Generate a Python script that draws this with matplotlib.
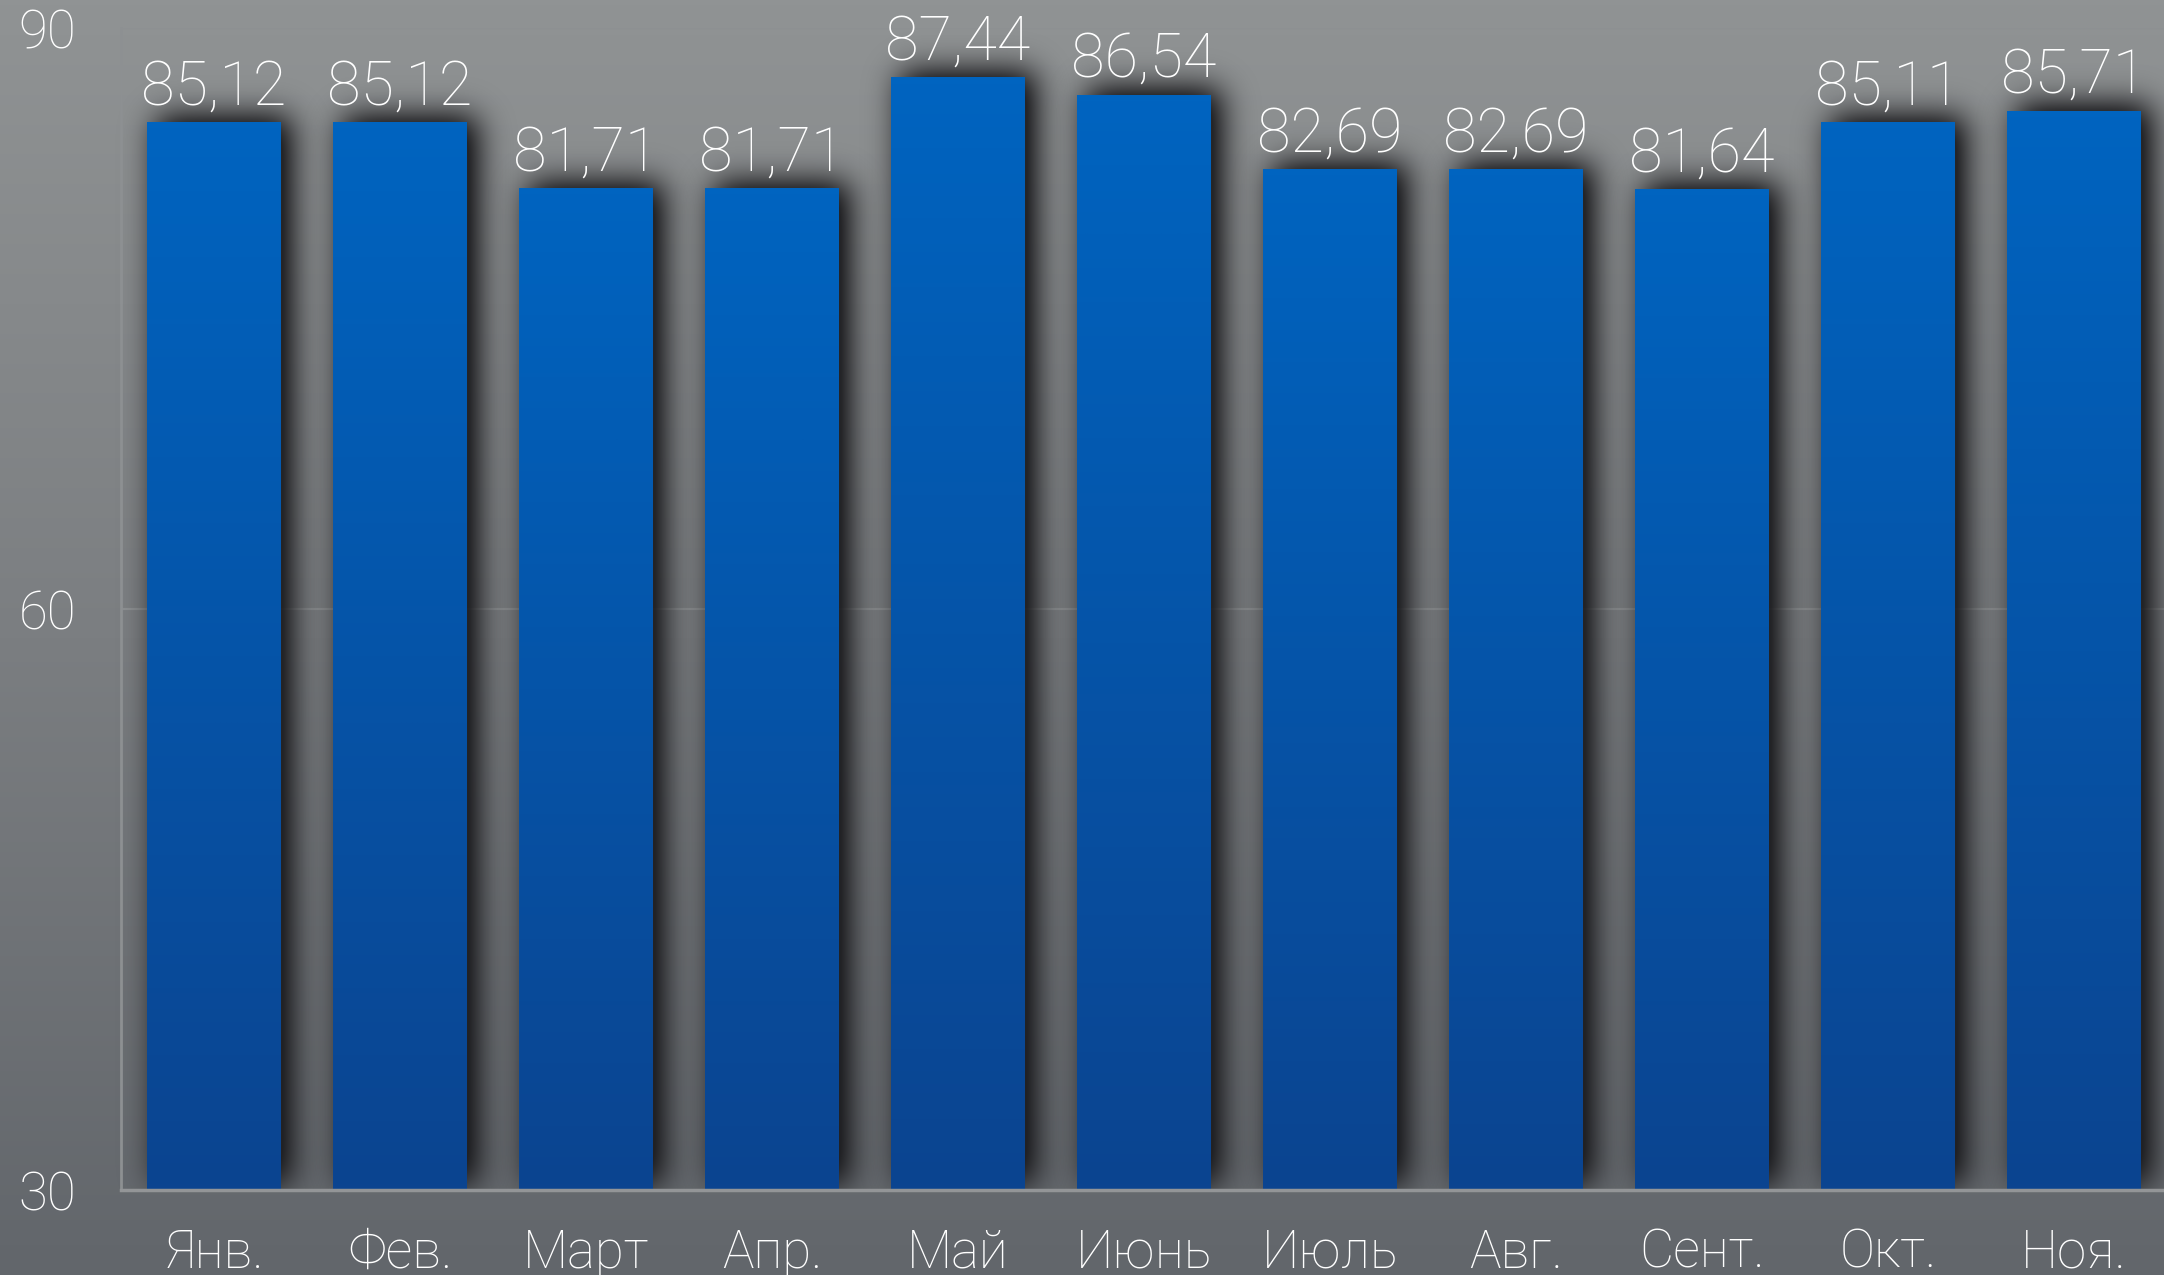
import numpy as np
import matplotlib
matplotlib.use("Agg")
import matplotlib.pyplot as plt
from matplotlib.colors import LinearSegmentedColormap

months = ["Янв.", "Фев.", "Март", "Апр.", "Май", "Июнь", "Июль", "Авг.", "Сент.", "Окт.", "Ноя."]
values = [85.12, 85.12, 81.71, 81.71, 87.44, 86.54, 82.69, 82.69, 81.64, 85.11, 85.71]
y_ticks = [30, 60, 90]

FONT = ["Roboto", "DejaVu Sans"]
plt.rcParams["font.family"] = FONT
plt.rcParams["font.weight"] = "light"

W, H = 2164, 1275
DPI = 100
fig = plt.figure(figsize=(W / DPI, H / DPI), dpi=DPI)

# background gradient
bg = fig.add_axes([0, 0, 1, 1], zorder=-10)
bg_cmap = LinearSegmentedColormap.from_list("bg", ["#62666b", "#7b7e81", "#909394"])
grad = np.linspace(0, 1, 256).reshape(-1, 1)
bg.imshow(grad, aspect="auto", cmap=bg_cmap, origin="lower", extent=[0, 1, 0, 1])
bg.set_axis_off()

ax = fig.add_axes([121 / W, 85 / H, 2046 / W, 1162 / H])
ax.set_facecolor("none")


def gauss_kernel(sigma):
    r = max(int(3 * sigma), 1)
    x = np.arange(-r, r + 1)
    k = np.exp(-x ** 2 / (2.0 * sigma ** 2))
    return k / k.sum()


class ShadowFilter:
    def __init__(self, sigma, dx, dy, alpha, color=(0.1, 0.1, 0.11)):
        self.sigma = sigma
        self.dx = dx
        self.dy = dy
        self.alpha = alpha
        self.color = color

    def __call__(self, im, dpi):
        a = im[:, :, 3]
        h, w = a.shape
        pad = int(3 * self.sigma + max(abs(self.dx), abs(self.dy))) + 2
        p = np.pad(a, pad)
        p = np.roll(p, self.dx, axis=1)
        p = np.roll(p, -self.dy, axis=0)
        k = gauss_kernel(self.sigma)
        p = np.apply_along_axis(lambda r: np.convolve(r, k, mode="same"), 1, p)
        p = np.apply_along_axis(lambda c: np.convolve(c, k, mode="same"), 0, p)
        p[pad + h:, :] = 0
        out = np.zeros(p.shape + (4,))
        out[:, :, :3] = self.color
        out[:, :, 3] = np.clip(p * self.alpha, 0, 0.9)
        return out, -pad, -pad


x = np.arange(len(months))
bw = 0.72
base = y_ticks[0]

# grid lines
for t in y_ticks[1:]:
    ax.axhline(t, color="#8d9092", lw=1.6, zorder=0.5)

# shadows
shadow_bars = ax.bar(x, np.array(values) - base, width=bw, bottom=base,
                     color="black", zorder=1)
for p in shadow_bars:
    p.set_agg_filter(ShadowFilter(sigma=16, dx=10, dy=6, alpha=1.3))

# gradient bars
bar_cmap = LinearSegmentedColormap.from_list("bar", ["#0b4490", "#0064c0"])
for xi, v in zip(x, values):
    ax.imshow(grad, aspect="auto", cmap=bar_cmap, origin="lower",
              extent=[xi - bw / 2, xi + bw / 2, base, v], zorder=2,
              interpolation="bilinear")

# value labels
for xi, v in zip(x, values):
    ax.annotate(f"{v:.2f}".replace(".", ","), (xi, v), xytext=(0, 13),
                textcoords="offset points", ha="center", va="baseline",
                color="white", fontsize=44, fontweight="light", zorder=3)

ax.set_xlim(-0.5, len(months) - 0.5)
ax.set_ylim(y_ticks[0], y_ticks[-1])
ax.set_xticks(x)
ax.set_xticklabels(months)
ax.set_yticks(y_ticks)
ax.set_yticklabels([str(t) for t in y_ticks])
ax.tick_params(axis="x", length=0, pad=27, labelsize=38, labelcolor="white")
ax.tick_params(axis="y", length=0, pad=32, labelsize=38, labelcolor="white")
for lab in ax.get_xticklabels() + ax.get_yticklabels():
    lab.set_fontweight("light")

for s in ["top", "right"]:
    ax.spines[s].set_visible(False)
ax.spines["left"].set_color("#8d9092")
ax.spines["left"].set_linewidth(2)
ax.spines["bottom"].set_color("#939597")
ax.spines["bottom"].set_linewidth(2.5)
ax.spines["bottom"].set_zorder(2.5)

fig.savefig("out.png", dpi=DPI)
